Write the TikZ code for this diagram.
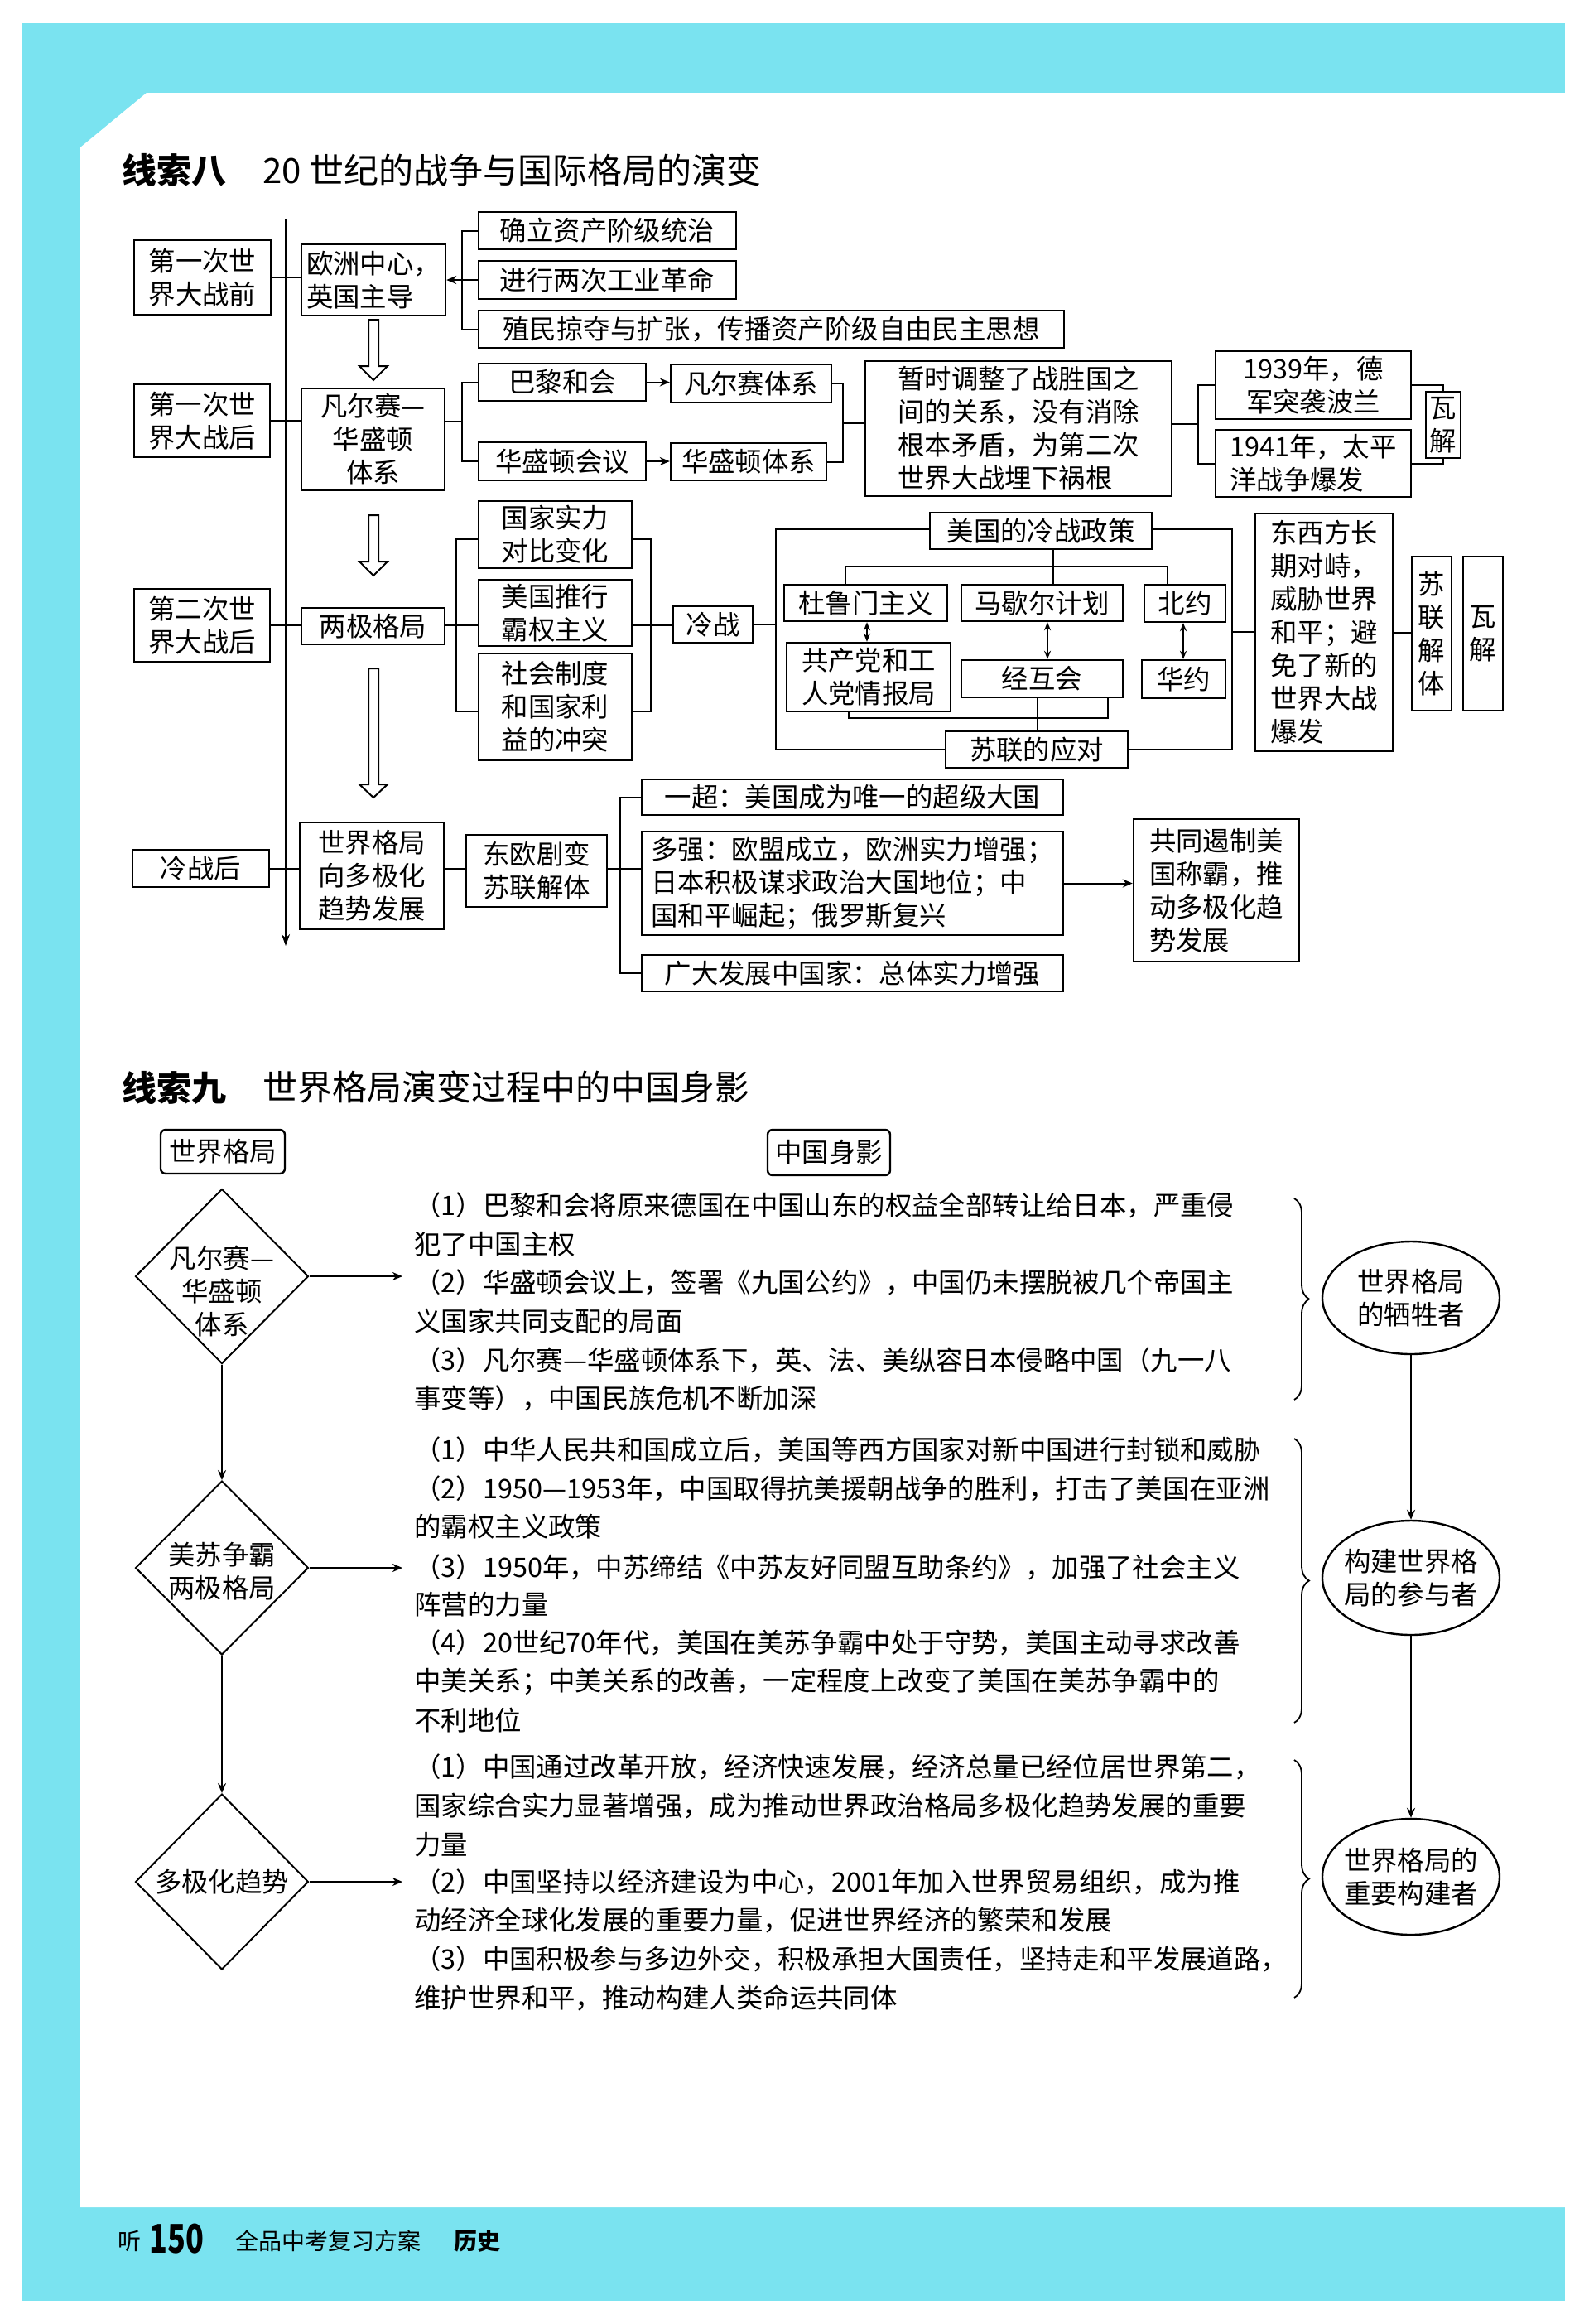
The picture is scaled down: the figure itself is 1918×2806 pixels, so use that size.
\documentclass[tikz,border=0pt]{standalone}
\usepackage{fontspec}
\setmainfont{Noto Sans CJK SC}
\usetikzlibrary{shapes.geometric,arrows.meta,decorations.pathreplacing}
\definecolor{cyanbg}{RGB}{122,227,240}
\newcommand\fs{\fontsize{16.2}{20}\selectfont}
\newcommand\ts{\fontsize{16.2}{20}\selectfont}
\newcommand\tfs{\fontsize{21}{25}\selectfont}
\newcommand\mybox[7][bx]{\node[#1,minimum width={(#5-#3)*0.5pt},minimum height={(#6-#4)*0.5pt}] (#2) at ({(#3+#5)/2},{(#4+#6)/2}) {#7};}
\tikzset{
 bx/.style={draw,line width=1.2pt,inner sep=0pt,font=\fs,align=center},
 bxl/.style={bx,align=left},
 rbx/.style={bx,rounded corners=3pt},
 ln/.style={line width=1pt},
 arr/.style={ln,-{Stealth[length=6pt,width=5pt]}},
 darr/.style={ln,{Stealth[length=5pt,width=4pt]}-{Stealth[length=5pt,width=4pt]}},
 hol/.style={line width=1pt,fill=white},
 dia/.style={draw,diamond,line width=1pt,inner sep=0pt},
 ell/.style={draw,ellipse,line width=1.2pt,inner sep=0pt},
 lbl/.style={font=\fs,align=center,inner sep=0pt},
 txt/.style={font=\ts,anchor=west,inner sep=0pt},
 brc/.style={line width=0.9pt,decorate,decoration={brace,amplitude=9pt}},
}
\begin{document}
\begin{tikzpicture}[x=0.5pt,y=-0.5pt]
\useasboundingbox (0,0) rectangle (1918,2806);
\fill[white] (0,0) rectangle (1918,2806);
\fill[cyanbg] (27,28) rectangle (1890,2778);
\fill[white] (177,112) -- (1890,112) -- (1890,2665) -- (97,2665) -- (97,178) -- cycle;

% ---------- Titles ----------
\node[anchor=west,font=\tfs\bfseries,inner sep=0pt] (T8a) at (147,205) {线索八};
\node[anchor=west,font=\tfs,inner sep=0pt] (T8b) at (317,205) {20 世纪的战争与国际格局的演变};
\node[anchor=west,font=\tfs\bfseries,inner sep=0pt] (T9a) at (147,1313) {线索九};
\node[anchor=west,font=\tfs,inner sep=0pt] (T9b) at (317,1313) {世界格局演变过程中的中国身影};

% ---------- timeline ----------
\coordinate (tl0) at (345,265);
\coordinate (tl1) at (345,1142);
\draw[ln,-{Stealth[length=7pt,width=5pt]}] (tl0) -- (tl1);

% ---------- left column ----------
\mybox{L1}{162}{290}{327}{380}{第一次世\\界大战前}
\mybox{L2}{162}{464}{326}{552}{第一次世\\界大战后}
\mybox{L3}{162}{711}{326}{799}{第二次世\\界大战后}
\mybox{L4}{160}{1026}{325}{1071}{冷战后}

% ---------- middle column ----------
\mybox[bxl]{M1}{364}{295}{538}{381}{欧洲中心，\\英国主导}
\mybox{M2}{364}{469}{537}{592}{凡尔赛—\\华盛顿\\体系}
\mybox{M3}{364}{734}{537}{778}{两极格局}
\mybox{M4}{362}{993}{536}{1122}{世界格局\\向多极化\\趋势发展}

% hollow arrows
\draw[hol] (445,386) -- (457,386) -- (457,442) -- (468,442) -- (451,459) -- (434,442) -- (445,442) -- cycle;
\draw[hol] (445,622) -- (457,622) -- (457,678) -- (468,678) -- (451,695) -- (434,678) -- (445,678) -- cycle;
\draw[hol] (445,807) -- (457,807) -- (457,947) -- (468,947) -- (451,963) -- (434,947) -- (445,947) -- cycle;

% ---------- row 1 ----------
\mybox{A1}{578}{256}{889}{301}{确立资产阶级统治}
\mybox{A2}{578}{315}{889}{361}{进行两次工业革命}
\mybox{A3}{578}{375}{1285}{420}{殖民掠夺与扩张，传播资产阶级自由民主思想}
\coordinate (k1) at (558,300);
\draw[ln] (A1.west) -- (A1.west -| k1) -- (A3.west -| k1) -- (A3.west);
\draw[arr] (A2.west) -- (A2.west -| M1.east);
\draw[ln] (L1.east) -- (L1.east -| M1.west);

% ---------- row 2 ----------
\mybox{B1}{578}{439}{780}{484}{巴黎和会}
\mybox{B2}{810}{440}{1004}{486}{凡尔赛体系}
\mybox{B3}{578}{534}{780}{580}{华盛顿会议}
\mybox{B4}{810}{535}{998}{580}{华盛顿体系}
\mybox[bxl]{B5}{1045}{436}{1415}{599}{暂时调整了战胜国之\\间的关系，没有消除\\根本矛盾，为第二次\\世界大战埋下祸根}
\mybox{B6}{1468}{424}{1704}{506}{1939年，德\\军突袭波兰}
\mybox[bxl]{B7}{1468}{519}{1704}{600}{1941年，太平\\洋战争爆发}
\mybox{B8}{1722}{473}{1764}{553}{瓦\\解}
\draw[ln] (L2.east) -- (L2.east -| M2.west);
\coordinate (k2) at (558,509);
\draw[ln] (k2 -| M2.east) -- (k2);
\draw[ln] (B1.west) -- (B1.west -| k2) -- (B3.west -| k2) -- (B3.west);
\draw[arr] (B1.east) -- (B1.east -| B2.west);
\draw[arr] (B3.east) -- (B3.east -| B4.west);
\coordinate (k3) at (1018,511);
\draw[ln] (B2.east) -- (B2.east -| k3) -- (B4.east -| k3) -- (B4.east);
\draw[ln] (k3) -- (k3 -| B5.west);
\coordinate (k4) at (1447,512);
\draw[ln] (k4 -| B5.east) -- (k4);
\draw[ln] (B6.west) -- (B6.west -| k4) -- (B7.west -| k4) -- (B7.west);
\draw[ln] (B6.east) -| (B8.north);
\draw[ln] (B7.east) -| (B8.south);

% ---------- row 3 ----------
\mybox{C1}{578}{605}{763}{686}{国家实力\\对比变化}
\mybox{C2}{578}{700}{763}{780}{美国推行\\霸权主义}
\mybox{C3}{578}{789}{763}{918}{社会制度\\和国家利\\益的冲突}
\mybox{C4}{813}{732}{909}{776}{冷战}
\mybox{C5}{1123}{619}{1391}{663}{美国的冷战政策}
\mybox{C6}{947}{706}{1144}{750}{杜鲁门主义}
\mybox{C7}{1161}{706}{1356}{750}{马歇尔计划}
\mybox{C8}{1382}{706}{1480}{751}{北约}
\mybox{C9}{950}{776}{1148}{859}{共产党和工\\人党情报局}
\mybox{C10}{1161}{797}{1356}{842}{经互会}
\mybox{C11}{1379}{797}{1480}{843}{华约}
\mybox{C12}{1142}{883}{1362}{927}{苏联的应对}
\mybox[bxl]{C13}{1516}{620}{1682}{907}{东西方长\\期对峙，\\威胁世界\\和平；避\\免了新的\\世界大战\\爆发}
\mybox{C14}{1705}{672}{1753}{858}{苏\\联\\解\\体}
\mybox{C15}{1767}{672}{1815}{858}{瓦\\解}
\draw[ln] (L3.east) -- (L3.east -| M3.west);
\coordinate (k5) at (551,755);
\coordinate (k5a) at (551,651);
\coordinate (k5b) at (551,859);
\draw[ln] (k5 -| M3.east) -- (k5 -| C2.west);
\draw[ln] (k5a -| C1.west) -- (k5a) -- (k5b) -- (k5b -| C3.west);
\coordinate (k6) at (786,755);
\coordinate (k6a) at (786,651);
\coordinate (k6b) at (786,859);
\draw[ln] (k6a -| C1.east) -- (k6a) -- (k6b) -- (k6b -| C3.east);
\draw[ln] (k6 -| C2.east) -- (k6) -- (k6 -| C4.west);
\coordinate (k7) at (937,754);
\draw[ln] (k7 -| C4.east) -- (k7);
\coordinate (o1) at (937,639);
\coordinate (o2) at (937,905);
\coordinate (o3) at (1488,639);
\coordinate (o4) at (1488,905);
\coordinate (o5) at (1488,763);
\draw[ln] (o1 -| C5.west) -- (o1) -- (o2) -- (o2 -| C12.west);
\draw[ln] (o3 -| C5.east) -- (o3) -- (o4) -- (o4 -| C12.east);
\draw[ln] (o5) -- (o5 -| C13.west);
\draw[ln] (C13.east) -- (C13.east -| C14.west);
\coordinate (p0) at (1272,684);
\coordinate (p1) at (1021,684);
\coordinate (p2) at (1410,684);
\draw[ln] (p0 |- C5.south) -- (p0 |- C7.north);
\draw[ln] (p1 |- C6.north) -- (p1) -- (p2) -- (p2 |- C8.north);
\coordinate (q1) at (1047,750);
\coordinate (q2) at (1265,750);
\coordinate (q3) at (1429,750);
\draw[darr] (q1 |- C6.south) -- (q1 |- C9.north);
\draw[darr] (q2 |- C7.south) -- (q2 |- C10.north);
\draw[darr] (q3 |- C8.south) -- (q3 |- C11.north);
\coordinate (r1) at (1025,867);
\coordinate (r2) at (1338,867);
\coordinate (r3) at (1253,867);
\draw[ln] (r1 |- C9.south) -- (r1) -- (r2) -- (r2 |- C10.south);
\draw[ln] (r3 |- C10.south) -- (r3 |- C12.north);

% ---------- row 4 ----------
\mybox{D1}{563}{1008}{733}{1095}{东欧剧变\\苏联解体}
\mybox[bxl]{D2}{775}{941}{1284}{984}{一超：美国成为唯一的超级大国}
\mybox[bxl]{D3}{775}{1004}{1284}{1129}{多强：欧盟成立，欧洲实力增强；\\日本积极谋求政治大国地位；中\\国和平崛起；俄罗斯复兴}
\mybox[bxl]{D4}{775}{1153}{1284}{1197}{广大发展中国家：总体实力增强}
\mybox[bxl]{D5}{1369}{989}{1569}{1161}{共同遏制美\\国称霸，推\\动多极化趋\\势发展}
\draw[ln] (L4.east) -- (L4.east -| M4.west);
\coordinate (s0) at (749,1049);
\draw[ln] (s0 -| M4.east) -- (s0 -| D1.west);
\draw[ln] (s0 -| D1.east) -- (s0);
\draw[ln] (D2.west) -- (D2.west -| s0) -- (D4.west -| s0) -- (D4.west);
\draw[ln] (s0) -- (s0 -| D3.west);
\draw[arr] (D3.east) -- (D3.east -| D5.west);

% ---------- Section 9 ----------
\mybox[rbx]{N1}{194}{1364}{344}{1417}{世界格局}
\mybox[rbx]{N2}{927}{1364}{1075}{1419}{中国身影}

\node[dia,minimum width=104.5pt,minimum height=105.5pt] (G1) at (268,1541) {};
\node[dia,minimum width=104.5pt,minimum height=105pt] (G2) at (268,1893) {};
\node[dia,minimum width=104.5pt,minimum height=106pt] (G3) at (268,2272) {};
\node[lbl] (G1t) at (268,1559) {凡尔赛—\\华盛顿\\体系};
\node[lbl] (G2t) at (268,1897) {美苏争霸\\两极格局};
\node[lbl] (G3t) at (268,2272) {多极化趋势};
\coordinate (g1e) at (486,1541);
\coordinate (g2e) at (486,1893);
\coordinate (g3e) at (486,2272);
\draw[arr] (G1.east) -- (g1e);
\draw[arr] (G2.east) -- (g2e);
\draw[arr] (G3.east) -- (g3e);
\draw[arr] (G1.south) -- (G2.north);
\draw[arr] (G2.south) -- (G3.north);

% text block 1
\node[txt] (t11) at (500,1455) {（1）巴黎和会将原来德国在中国山东的权益全部转让给日本，严重侵};
\node[txt] (t12) at (500,1502) {犯了中国主权};
\node[txt] (t13) at (500,1548) {（2）华盛顿会议上，签署《九国公约》，中国仍未摆脱被几个帝国主};
\node[txt] (t14) at (500,1595) {义国家共同支配的局面};
\node[txt] (t15) at (500,1642) {（3）凡尔赛—华盛顿体系下，英、法、美纵容日本侵略中国（九一八};
\node[txt] (t16) at (500,1688) {事变等），中国民族危机不断加深};
% text block 2
\node[txt] (t21) at (500,1750) {（1）中华人民共和国成立后，美国等西方国家对新中国进行封锁和威胁};
\node[txt] (t22) at (500,1797) {（2）1950—1953年，中国取得抗美援朝战争的胜利，打击了美国在亚洲};
\node[txt] (t23) at (500,1843) {的霸权主义政策};
\node[txt] (t24) at (500,1892) {（3）1950年，中苏缔结《中苏友好同盟互助条约》，加强了社会主义};
\node[txt] (t25) at (500,1937) {阵营的力量};
\node[txt] (t26) at (500,1983) {（4）20世纪70年代，美国在美苏争霸中处于守势，美国主动寻求改善};
\node[txt] (t27) at (500,2030) {中美关系；中美关系的改善，一定程度上改变了美国在美苏争霸中的};
\node[txt] (t28) at (500,2077) {不利地位};
% text block 3
\node[txt] (t31) at (500,2133) {（1）中国通过改革开放，经济快速发展，经济总量已经位居世界第二，};
\node[txt] (t32) at (500,2180) {国家综合实力显著增强，成为推动世界政治格局多极化趋势发展的重要};
\node[txt] (t33) at (500,2227) {力量};
\node[txt] (t34) at (500,2272) {（2）中国坚持以经济建设为中心，2001年加入世界贸易组织，成为推};
\node[txt] (t35) at (500,2318) {动经济全球化发展的重要力量，促进世界经济的繁荣和发展};
\node[txt] (t36) at (500,2365) {（3）中国积极参与多边外交，积极承担大国责任，坚持走和平发展道路，};
\node[txt] (t37) at (500,2412) {维护世界和平，推动构建人类命运共同体};

% braces
\coordinate (b1a) at (1563,1447); \coordinate (b1b) at (1563,1690);
\coordinate (b2a) at (1563,1737); \coordinate (b2b) at (1563,2080);
\coordinate (b3a) at (1563,2125); \coordinate (b3b) at (1563,2412);
\draw[brc] (b1a) -- (b1b);
\draw[brc] (b2a) -- (b2b);
\draw[brc] (b3a) -- (b3b);

% ellipses
\node[ell,minimum width=107pt,minimum height=68pt] (E1) at (1704,1567) {};
\node[ell,minimum width=107pt,minimum height=69pt] (E2) at (1704,1905) {};
\node[ell,minimum width=107pt,minimum height=70pt] (E3) at (1704,2266) {};
\node[lbl] (E1t) at (1704,1567) {世界格局\\的牺牲者};
\node[lbl] (E2t) at (1704,1905) {构建世界格\\局的参与者};
\node[lbl] (E3t) at (1704,2266) {世界格局的\\重要构建者};
\draw[arr] (E1.south) -- (E2.north);
\draw[arr] (E2.south) -- (E3.north);

% ---------- footer ----------
\node[anchor=west,inner sep=0pt,font=\fontsize{14}{16}\selectfont] (F1) at (142,2706) {听};
\node[anchor=west,inner sep=0pt,font=\fontsize{24}{26}\selectfont\bfseries,xscale=0.75,transform shape] (F2) at (180,2703) {150};
\node[anchor=west,inner sep=0pt,font=\fontsize{14}{16}\selectfont] (F3) at (284,2706) {全品中考复习方案};
\node[anchor=west,inner sep=0pt,font=\fontsize{14}{16}\selectfont\bfseries] (F4) at (548,2706) {历史};
\end{tikzpicture}
\end{document}
